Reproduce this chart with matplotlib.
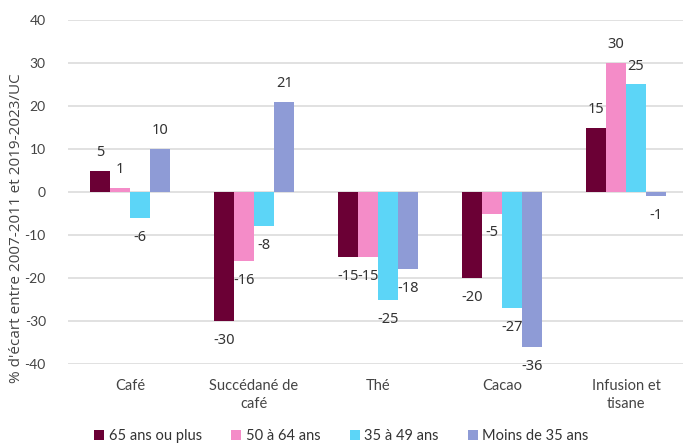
import matplotlib
matplotlib.use("Agg")
import matplotlib.pyplot as plt
import numpy as np

categories = ["Café", "Succédané de\ncafé", "Thé", "Cacao", "Infusion et\ntisane"]
series_names = ["65 ans ou plus", "50 à 64 ans", "35 à 49 ans", "Moins de 35 ans"]
v65 = [5, -30, -15, -20, 15]
v50 = [1, -16, -15, -5, 30]
v35 = [-6, -8, -25, -27, 25]
vmoins = [10, 21, -18, -36, -1]
colors = ["#6B0035", "#F48CC8", "#5CD5F7", "#8E9BD6"]
yticks = [-40, -30, -20, -10, 0, 10, 20, 30, 40]

plt.rcParams['font.family'] = ['Lato', 'DejaVu Sans']

fig = plt.figure(figsize=(6.83, 4.43), dpi=100)
ax = fig.add_axes([0.0996, 0.178, 0.9004, 0.777])

values = [v65, v50, v35, vmoins]
x = np.arange(len(categories))
w = 0.162
for i, (vals, c, name) in enumerate(zip(values, colors, series_names)):
    pos = x + (i - 1.5) * w
    bars = ax.bar(pos, vals, width=w, color=c, label=name, zorder=3)
    for p, v in zip(pos, vals):
        off = 13 if v >= 0 else -14
        ax.annotate(f"{v}", (p, v), xytext=(0, off), textcoords="offset points",
                    ha="center", va="center", fontsize=10.5, color="#333333",
                    family=["Noto Sans", "DejaVu Sans"])

ax.set_ylim(-40, 40)
ax.set_xlim(-0.5, 4.46)
ax.set_yticks(yticks)
ax.set_yticklabels([str(t) for t in yticks], fontsize=10, color="#444444")
ax.set_xticks(x)
ax.set_xticklabels(categories, fontsize=10.5, color="#444444", linespacing=1.3)
ax.tick_params(axis="both", length=0)
ax.tick_params(axis="x", pad=11)
ax.tick_params(axis="y", pad=16)
ax.grid(axis="y", color="#D9D9D9", linewidth=1.1, zorder=0)
for s in ax.spines.values():
    s.set_visible(False)
fig.text(0.024, 0.485, "% d'écart entre 2007-2011 et 2019-2023/UC", rotation=90,
         ha="center", va="center", fontsize=11, color="#444444",
         family=["Open Sans", "DejaVu Sans"])

fig.legend(loc="lower center", bbox_to_anchor=(0.5, -0.03), ncol=4, frameon=False,
           fontsize=10.5, handlelength=0.7, handleheight=0.7, handletextpad=0.3,
           columnspacing=2.0, labelcolor="#333333")

fig.savefig("out.png", dpi=100)
